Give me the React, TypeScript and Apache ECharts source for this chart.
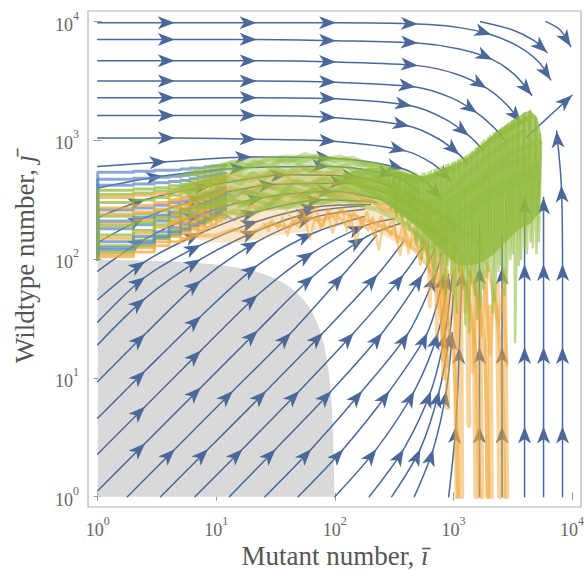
import React, { useEffect, useRef } from "react";
import * as echarts from "echarts";

// ---- axis ranges (log10 units) ----
const X_MIN = -0.082;
const X_MAX = 4.076;
const Y_MIN = -0.087;
const Y_MAX = 4.09;
const decadeTicks = [0, 1, 2, 3, 4];

// ---- grey region (counts i, j) ----
const grayI = [1, 2, 3, 5, 7, 10, 15, 20, 25, 30, 35, 40, 45, 50, 55, 60, 65, 70, 75, 80, 85, 90, 93, 95, 97, 98, 99, 1];
const grayJ = [99, 98, 97, 95, 93, 90, 85, 80, 75, 70, 65, 60, 55, 50, 45, 40, 35, 30, 25, 20, 15, 10, 7, 5, 3, 2, 1, 1];

// ---- streamlines, [log10 i, log10 j, arrowhead?] ----
const rowStreams = [
  [[0, 3.99, 0], [0.65, 3.99, 1], [1.34, 3.99, 1], [2.01, 3.99, 1], [2.7, 3.98, 1], [3.05, 3.95, 0], [3.32, 3.89, 1], [3.55, 3.79, 0], [3.72, 3.66, 0], [3.82, 3.51, 1]],
  [[0, 3.85, 0], [0.65, 3.85, 1], [1.34, 3.85, 1], [2.01, 3.84, 1], [2.7, 3.82, 1], [3.05, 3.77, 0], [3.33, 3.68, 1], [3.52, 3.55, 0], [3.66, 3.38, 1]],
  [[0, 3.67, 0], [0.65, 3.67, 1], [1.34, 3.67, 1], [2.01, 3.66, 1], [2.7, 3.63, 1], [3.02, 3.56, 0], [3.28, 3.44, 1], [3.45, 3.3, 0], [3.57, 3.15, 1]],
  [[0, 3.5, 0], [0.65, 3.5, 1], [1.34, 3.5, 1], [2.01, 3.49, 1], [2.68, 3.45, 1], [2.98, 3.36, 0], [3.2, 3.23, 1], [3.35, 3.1, 0], [3.45, 2.98, 0]],
  [[0, 3.36, 0], [0.65, 3.36, 1], [1.34, 3.36, 1], [2.01, 3.35, 1], [2.65, 3.29, 1], [2.93, 3.18, 0], [3.13, 3.04, 1], [3.25, 2.92, 0]],
  [[0, 3.21, 0], [0.65, 3.21, 1], [1.34, 3.21, 1], [2.01, 3.19, 1], [2.63, 3.12, 1], [2.88, 3.01, 0], [3.05, 2.88, 1], [3.12, 2.8, 0]],
  [[0, 3.02, 0], [0.65, 3.02, 1], [1.34, 3.01, 1], [2.01, 2.99, 1], [2.6, 2.91, 1], [2.83, 2.8, 0], [2.98, 2.66, 1]],
  [[0, 2.78, 0], [0.58, 2.82, 1], [1.3, 2.86, 1], [1.98, 2.85, 1], [2.58, 2.76, 1], [2.78, 2.64, 0], [2.9, 2.5, 1]],
];

const leftStreams = [
  [[0, 0.05, 0], [0.4, 0.45, 1], [0.87, 0.92, 1], [1.35, 1.4, 1], [1.82, 1.86, 1], [2.25, 2.18, 1], [2.55, 2.3, 0]],
  [[0, 0.36, 0], [0.4, 0.76, 1], [0.87, 1.23, 1], [1.35, 1.7, 1], [1.82, 2.06, 1], [2.25, 2.28, 1], [2.5, 2.34, 0]],
  [[0, 0.66, 0], [0.4, 1.06, 1], [0.87, 1.52, 1], [1.35, 1.95, 1], [1.82, 2.22, 1], [2.25, 2.36, 0]],
  [[0, 0.97, 0], [0.4, 1.37, 1], [0.87, 1.82, 1], [1.35, 2.15, 1], [1.82, 2.35, 1], [2.25, 2.42, 0]],
  [[0, 1.28, 0], [0.4, 1.67, 1], [0.87, 2.0, 1], [1.35, 2.24, 1], [1.82, 2.4, 1], [2.25, 2.45, 0]],
  [[0, 1.47, 0], [0.4, 1.85, 1], [0.87, 2.12, 1], [1.35, 2.32, 1], [1.85, 2.44, 1], [2.3, 2.46, 0]],
  [[0, 1.66, 0], [0.4, 1.98, 1], [0.87, 2.22, 1], [1.35, 2.4, 1], [1.9, 2.5, 1], [2.35, 2.48, 0]],
  [[0, 1.9, 0], [0.4, 2.17, 1], [0.87, 2.38, 1], [1.4, 2.52, 1], [2.0, 2.57, 1], [2.4, 2.5, 0]],
  [[0, 2.14, 0], [0.4, 2.35, 1], [0.9, 2.52, 1], [1.5, 2.63, 1], [2.1, 2.64, 1], [2.45, 2.55, 0]],
  [[0, 2.35, 0], [0.4, 2.5, 1], [0.95, 2.62, 1], [1.6, 2.71, 1], [2.2, 2.69, 1], [2.5, 2.6, 0]],
  [[0, 2.6, 0], [0.55, 2.7, 1], [1.25, 2.77, 1], [1.95, 2.78, 1], [2.5, 2.7, 1], [2.72, 2.56, 0]],
];

const bottomStreams = [
  [[0.25, 0, 0], [0.65, 0.4, 1], [1.14, 0.89, 1], [1.63, 1.38, 1], [2.07, 1.87, 1], [2.35, 2.2, 0]],
  [[0.53, 0, 0], [0.93, 0.4, 1], [1.42, 0.89, 1], [1.9, 1.38, 1], [2.36, 1.87, 1], [2.58, 2.15, 0]],
  [[0.82, 0, 0], [1.22, 0.4, 1], [1.7, 0.89, 1], [2.16, 1.38, 1], [2.58, 1.87, 1], [2.74, 2.1, 0]],
  [[1.11, 0, 0], [1.5, 0.4, 1], [1.97, 0.89, 1], [2.4, 1.38, 1], [2.74, 1.87, 1], [2.84, 2.08, 0]],
  [[1.41, 0, 0], [1.8, 0.4, 1], [2.23, 0.89, 1], [2.62, 1.38, 1], [2.85, 1.87, 1], [2.9, 2.05, 0]],
  [[1.69, 0, 0], [2.07, 0.4, 1], [2.46, 0.89, 1], [2.78, 1.38, 1], [2.92, 1.87, 1]],
  [[2.0, 0, 0], [2.35, 0.4, 1], [2.67, 0.89, 1], [2.87, 1.38, 1], [2.96, 1.87, 1]],
  [[2.29, 0, 0], [2.58, 0.4, 1], [2.81, 0.89, 1], [2.93, 1.38, 1], [2.99, 1.87, 0]],
  [[2.48, 0, 0], [2.72, 0.4, 1], [2.88, 0.89, 1], [2.97, 1.38, 1], [3.0, 1.7, 0]],
  [[2.67, 0, 0], [2.83, 0.4, 1], [2.94, 0.89, 1], [2.99, 1.38, 1]],
  [[2.96, 0, 0], [3.02, 0.59, 1], [3.05, 1.26, 1], [3.07, 1.9, 1]],
];

const rightStreams = [
  [[3.22, 0, 0], [3.22, 0.59, 1], [3.22, 1.26, 1], [3.22, 1.93, 1], [3.22, 2.3, 0]],
  [[3.41, 0, 0], [3.41, 0.59, 1], [3.41, 1.26, 1], [3.41, 1.93, 1], [3.41, 2.2, 0]],
  [[3.6, 0, 0], [3.6, 0.59, 1], [3.6, 1.26, 1], [3.6, 1.96, 1], [3.6, 2.52, 1]],
  [[3.76, 0, 0], [3.76, 0.59, 1], [3.76, 1.26, 1], [3.76, 1.96, 1], [3.76, 2.52, 1]],
  [[3.92, 0, 0], [3.92, 0.59, 1], [3.92, 1.26, 1], [3.92, 1.96, 1], [3.91, 2.62, 1], [3.87, 3.08, 1]],
];

const edgeStreams = [
  [[3.23, 4.0, 0], [3.5, 3.93, 0], [3.68, 3.84, 0], [3.79, 3.74, 1]],
  [[3.78, 4.0, 0], [3.9, 3.93, 0], [3.99, 3.79, 1]],
  [[3.62, 3.03, 0], [4.0, 3.38, 1]],
];

// ---- stochastic trajectories ----
// staircase part: wildtype counts j for mutant counts i = 1..11, starting from j = 100
const stairStart = 100;
const stairColors = ["g", "b", "o", "g", "b", "o", "g", "b", "o", "g", "b", "o", "g", "b", "o", "g", "b", "o", "b", "g", "b", "o", "b", "g"];
const stairJ = [
  [230, 240, 255, 270, 290, 300, 320, 340, 350, 370, 385],
  [180, 195, 210, 225, 240, 250, 270, 290, 300, 320, 335],
  [150, 165, 185, 200, 215, 230, 245, 260, 280, 300, 310],
  [300, 315, 330, 345, 360, 375, 395, 410, 430, 450, 460],
  [120, 135, 150, 160, 175, 190, 200, 215, 230, 245, 260],
  [200, 215, 230, 245, 260, 275, 290, 310, 330, 345, 355],
  [160, 175, 195, 210, 225, 240, 255, 270, 290, 310, 320],
  [260, 270, 285, 300, 310, 325, 340, 355, 370, 390, 400],
  [110, 125, 140, 155, 165, 180, 190, 205, 220, 235, 250],
  [350, 360, 375, 390, 405, 420, 435, 450, 465, 480, 490],
  [420, 430, 440, 450, 460, 475, 490, 500, 510, 520, 530],
  [270, 285, 300, 315, 330, 345, 360, 370, 385, 400, 415],
  [130, 145, 160, 175, 190, 200, 215, 230, 245, 260, 275],
  [140, 155, 170, 185, 200, 215, 230, 245, 260, 280, 290],
  [330, 345, 355, 370, 380, 395, 410, 425, 440, 455, 470],
  [190, 205, 220, 235, 250, 265, 280, 300, 320, 335, 350],
  [210, 225, 235, 250, 265, 280, 295, 305, 320, 340, 350],
  [240, 250, 265, 280, 290, 305, 320, 335, 345, 360, 375],
  [470, 480, 490, 500, 510, 520, 535, 545, 555, 565, 575],
  [115, 130, 150, 165, 180, 195, 210, 225, 240, 255, 270],
  [540, 550, 560, 565, 575, 585, 590, 600, 610, 615, 620],
  [105, 115, 130, 140, 150, 160, 175, 185, 195, 210, 220],
  [125, 140, 155, 170, 180, 195, 205, 220, 235, 250, 265],
  [380, 390, 400, 415, 425, 440, 455, 465, 480, 495, 505],
];

// continuation (log10 units)
const orangeTraj = [
  [[0.6, 2.3], [0.7, 2.34], [0.8, 2.3], [0.9, 2.37], [1.0, 2.35], [1.1, 2.4], [1.2, 2.37], [1.3, 2.45], [1.4, 2.42], [1.5, 2.5], [1.6, 2.47], [1.7, 2.55], [1.8, 2.5], [1.9, 2.56], [2.0, 2.52], [2.1, 2.55], [2.2, 2.48], [2.3, 2.5], [2.4, 2.42], [2.5, 2.4], [2.6, 2.3], [2.7, 2.22], [2.78, 2.05], [2.85, 1.9], [2.92, 1.7], [2.96, 1.45], [3.0, 1.2], [3.02, 0.9], [3.03, 0.5], [3.04, 0]],
  [[0.6, 2.48], [0.75, 2.53], [0.88, 2.5], [1.0, 2.55], [1.12, 2.6], [1.25, 2.55], [1.38, 2.63], [1.5, 2.6], [1.62, 2.67], [1.75, 2.62], [1.88, 2.68], [2.0, 2.63], [2.12, 2.66], [2.25, 2.58], [2.38, 2.6], [2.5, 2.52], [2.62, 2.45], [2.72, 2.38], [2.82, 2.25], [2.92, 2.15], [3.0, 2.0], [3.08, 1.85], [3.14, 1.6], [3.18, 1.3], [3.2, 0.9], [3.21, 0.4], [3.22, 0]],
  [[0.7, 2.15], [0.85, 2.2], [1.0, 2.2], [1.15, 2.25], [1.3, 2.22], [1.45, 2.3], [1.6, 2.27], [1.75, 2.35], [1.9, 2.33], [2.05, 2.4], [2.2, 2.35], [2.35, 2.3], [2.48, 2.22], [2.6, 2.15], [2.7, 2.05], [2.78, 1.95], [2.86, 1.75], [2.9, 1.5], [2.93, 1.25], [2.95, 1.1]],
  [[0.8, 2.62], [0.9, 2.66], [1.0, 2.68], [1.15, 2.72], [1.3, 2.66], [1.45, 2.74], [1.6, 2.7], [1.75, 2.76], [1.9, 2.72], [2.05, 2.74], [2.2, 2.66], [2.35, 2.68], [2.5, 2.58], [2.62, 2.55], [2.75, 2.45], [2.88, 2.38], [3.0, 2.3], [3.12, 2.22], [3.22, 2.12], [3.3, 1.9], [3.36, 1.6], [3.4, 1.2], [3.42, 0.7], [3.43, 0]],
  [[0.65, 2.4], [0.78, 2.44], [0.9, 2.42], [1.0, 2.45], [1.12, 2.5], [1.25, 2.47], [1.38, 2.53], [1.5, 2.5], [1.62, 2.58], [1.75, 2.53], [1.88, 2.6], [2.0, 2.55], [2.12, 2.58], [2.25, 2.5], [2.38, 2.46], [2.5, 2.4], [2.62, 2.35], [2.72, 2.3], [2.82, 2.22], [2.9, 2.2], [3.0, 2.12], [3.08, 2.0], [3.15, 1.85], [3.22, 1.6], [3.26, 1.3], [3.28, 0.8], [3.29, 0]],
];
const orangeFringe = [
  [[1.4, 2.3], [1.44, 2.24], [1.47, 2.33], [1.52, 2.26], [1.56, 2.35], [1.6, 2.2], [1.64, 2.32], [1.7, 2.27], [1.74, 2.38], [1.79, 2.17], [1.83, 2.34], [1.9, 2.28], [1.94, 2.4], [1.98, 2.22], [2.03, 2.36], [2.09, 2.3], [2.13, 2.38], [2.18, 2.13], [2.22, 2.33], [2.28, 2.24], [2.32, 2.35], [2.37, 2.08], [2.41, 2.3], [2.47, 2.2], [2.5, 2.28], [2.55, 2.03], [2.59, 2.25], [2.64, 2.12], [2.68, 2.2], [2.72, 1.95], [2.76, 2.15], [2.8, 1.9]],
  [[1.6, 2.4], [1.66, 2.31], [1.71, 2.42], [1.78, 2.33], [1.84, 2.44], [1.88, 2.26], [1.95, 2.42], [2.0, 2.33], [2.06, 2.44], [2.1, 2.24], [2.16, 2.4], [2.23, 2.29], [2.27, 2.4], [2.33, 2.19], [2.39, 2.36], [2.44, 2.25], [2.49, 2.34], [2.53, 2.14], [2.58, 2.3], [2.62, 2.05], [2.66, 2.26], [2.71, 2.08], [2.75, 2.22], [2.79, 2.0]],
];
const orangeFunnel = [[2.78, 2.35], [2.8, 1.6], [2.84, 2.25], [2.86, 1.35], [2.88, 2.15], [2.91, 1.15], [2.94, 2.05], [2.96, 1.45], [3.0, 2.1], [3.03, 1.25], [3.07, 1.95], [3.1, 1.55], [3.13, 1.9], [3.16, 1.05], [3.2, 1.85], [3.23, 1.35], [3.27, 1.8], [3.31, 1.2], [3.34, 1.7], [3.38, 1.45], [3.42, 1.75], [3.45, 1.1]];
const orangeStrands = [
  [3.01, 1.9, 3.03, 0], [3.06, 2.0, 3.07, 0], [3.12, 1.8, 3.13, 0.6], [3.17, 2.0, 3.19, 0], [3.22, 1.7, 3.24, 0],
  [3.27, 1.9, 3.29, 0], [3.31, 1.6, 3.32, 0], [3.37, 1.8, 3.39, 0], [3.43, 1.9, 3.45, 0], [2.9, 2.0, 2.92, 1.0], [2.94, 1.9, 2.95, 0.75],
];
const orangeBand = [[0.6, 2.3], [0.9, 2.62], [1.2, 2.72], [1.6, 2.76], [2.0, 2.74], [2.3, 2.68], [2.55, 2.6], [2.75, 2.5], [2.95, 2.38], [3.1, 2.2], [3.0, 2.0], [2.85, 1.95], [2.7, 2.05], [2.5, 2.15], [2.3, 2.25], [2.05, 2.28], [1.8, 2.24], [1.5, 2.2], [1.2, 2.14], [0.9, 2.15]];

const greenTraj = [
  [[0.6, 2.55], [0.7, 2.6], [0.8, 2.57], [0.9, 2.64], [1.0, 2.62], [1.1, 2.68], [1.2, 2.64], [1.3, 2.72], [1.4, 2.68], [1.5, 2.76], [1.6, 2.72], [1.7, 2.79], [1.8, 2.74], [1.9, 2.8], [2.0, 2.76], [2.1, 2.79], [2.2, 2.72], [2.3, 2.74], [2.4, 2.66], [2.5, 2.64], [2.6, 2.56], [2.7, 2.5], [2.8, 2.45], [2.9, 2.52], [3.0, 2.6], [3.1, 2.7], [3.2, 2.78], [3.3, 2.88], [3.4, 2.95], [3.5, 3.02], [3.6, 3.08]],
  [[0.7, 2.4], [0.85, 2.44], [1.0, 2.45], [1.12, 2.5], [1.25, 2.46], [1.38, 2.55], [1.5, 2.52], [1.62, 2.6], [1.75, 2.56], [1.88, 2.62], [2.0, 2.58], [2.12, 2.62], [2.25, 2.55], [2.38, 2.52], [2.5, 2.45], [2.6, 2.38], [2.7, 2.3], [2.8, 2.25], [2.9, 2.35], [3.0, 2.45], [3.1, 2.55], [3.2, 2.62], [3.3, 2.7], [3.45, 2.8], [3.6, 2.85]],
  [[0.8, 2.72], [0.9, 2.76], [1.0, 2.78], [1.15, 2.82], [1.3, 2.78], [1.45, 2.85], [1.6, 2.82], [1.75, 2.88], [1.9, 2.84], [2.05, 2.86], [2.2, 2.8], [2.35, 2.8], [2.5, 2.74], [2.62, 2.7], [2.75, 2.68], [2.88, 2.72], [3.0, 2.78], [3.12, 2.86], [3.25, 2.95], [3.38, 3.05], [3.5, 3.12], [3.62, 3.18]],
  [[0.9, 2.32], [1.0, 2.35], [1.15, 2.4], [1.3, 2.38], [1.45, 2.46], [1.6, 2.44], [1.75, 2.5], [1.9, 2.48], [2.05, 2.52], [2.2, 2.46], [2.35, 2.42], [2.5, 2.35], [2.6, 2.28], [2.7, 2.2], [2.8, 2.1], [2.9, 2.15], [3.0, 2.25], [3.1, 2.35], [3.2, 2.45], [3.35, 2.55], [3.5, 2.62], [3.65, 2.7]],
  [[0.7, 2.7], [0.82, 2.74], [0.95, 2.7], [1.08, 2.78], [1.2, 2.74], [1.32, 2.82], [1.45, 2.78], [1.58, 2.85], [1.7, 2.82], [1.85, 2.87], [2.0, 2.83], [2.15, 2.85], [2.3, 2.79], [2.45, 2.76], [2.58, 2.7], [2.7, 2.66], [2.82, 2.68], [2.95, 2.74], [3.08, 2.8], [3.2, 2.9], [3.32, 3.0], [3.45, 3.08], [3.58, 3.16], [3.66, 3.2]],
  [[0.8, 2.5], [0.92, 2.55], [1.05, 2.5], [1.18, 2.58], [1.3, 2.55], [1.42, 2.62], [1.55, 2.58], [1.68, 2.66], [1.8, 2.62], [1.92, 2.68], [2.05, 2.64], [2.18, 2.66], [2.3, 2.6], [2.42, 2.58], [2.55, 2.5], [2.65, 2.44], [2.75, 2.38], [2.85, 2.4], [2.95, 2.48], [3.05, 2.55], [3.15, 2.62], [3.28, 2.72], [3.4, 2.82], [3.55, 2.92], [3.68, 2.98]],
  [[1.2, 2.45], [1.32, 2.5], [1.45, 2.46], [1.58, 2.55], [1.7, 2.52], [1.82, 2.58], [1.95, 2.54], [2.08, 2.6], [2.2, 2.55], [2.32, 2.55], [2.45, 2.48], [2.55, 2.42], [2.65, 2.34], [2.75, 2.28], [2.85, 2.22], [2.95, 2.3], [3.05, 2.38], [3.15, 2.46], [3.28, 2.56], [3.42, 2.64], [3.56, 2.7], [3.7, 2.78]],
];
const blueTraj = [
  [[0.95, 2.35], [1.05, 2.38], [1.15, 2.33], [1.25, 2.4]],
  [[0.95, 2.55], [1.05, 2.58], [1.15, 2.52], [1.25, 2.58], [1.35, 2.55]],
];
const greenBand = [[0.7, 2.6], [0.9, 2.76], [1.2, 2.84], [1.6, 2.88], [2.0, 2.86], [2.3, 2.82], [2.55, 2.76], [2.7, 2.72], [2.7, 2.32], [2.45, 2.45], [2.2, 2.48], [1.9, 2.46], [1.6, 2.42], [1.3, 2.4], [1.0, 2.42], [0.8, 2.5]];
const greenCloud = [[2.0, 2.68], [2.15, 2.74], [2.3, 2.77], [2.45, 2.75], [2.62, 2.72], [2.75, 2.7], [2.9, 2.76], [3.0, 2.8], [3.11, 2.84], [3.2, 2.92], [3.3, 3.02], [3.4, 3.1], [3.5, 3.17], [3.58, 3.22], [3.64, 3.25], [3.7, 3.2], [3.74, 3.05], [3.74, 2.7], [3.72, 2.4], [3.65, 2.3], [3.55, 2.25], [3.45, 2.15], [3.35, 2.05], [3.25, 1.98], [3.15, 1.95], [3.05, 1.95], [2.95, 2.02], [2.85, 2.12], [2.75, 2.22], [2.62, 2.33], [2.45, 2.45], [2.3, 2.55], [2.15, 2.62]];
const greenZigzags = [
  [[2.45, 2.74], [2.47, 2.42], [2.5, 2.74], [2.52, 2.36], [2.55, 2.73], [2.57, 2.32], [2.6, 2.72], [2.62, 2.7], [2.63, 2.25], [2.66, 2.72], [2.68, 2.12], [2.71, 2.7], [2.73, 2.0], [2.76, 2.72], [2.78, 1.95], [2.81, 2.74], [2.83, 1.82], [2.86, 2.76], [2.88, 2.02], [2.91, 2.78], [2.93, 1.7], [2.96, 2.8], [2.98, 1.88], [3.01, 2.82], [3.03, 1.55], [3.06, 2.84], [3.08, 1.75], [3.11, 2.86], [3.13, 1.38], [3.16, 2.9], [3.18, 1.7], [3.21, 2.95], [3.23, 1.6], [3.26, 3.0], [3.28, 1.85], [3.31, 3.04], [3.33, 1.55], [3.36, 3.07], [3.38, 1.9], [3.41, 3.1], [3.43, 1.7], [3.46, 3.14], [3.48, 2.0], [3.51, 3.17], [3.52, 1.3], [3.55, 3.2], [3.57, 2.0], [3.6, 3.23], [3.62, 2.05], [3.65, 3.25], [3.67, 2.1], [3.7, 3.18], [3.72, 2.15], [3.74, 3.0]],
  [[2.5, 2.72], [2.51, 2.4], [2.55, 2.72], [2.56, 2.35], [2.6, 2.7], [2.61, 2.3], [2.64, 2.68], [2.65, 2.3], [2.69, 2.7], [2.7, 2.15], [2.74, 2.72], [2.75, 2.08], [2.79, 2.73], [2.8, 2.0], [2.84, 2.75], [2.85, 1.9], [2.89, 2.77], [2.9, 1.8], [2.94, 2.79], [2.95, 1.95], [2.99, 2.81], [3.0, 1.65], [3.04, 2.83], [3.05, 1.9], [3.09, 2.85], [3.1, 1.45], [3.14, 2.88], [3.15, 1.8], [3.19, 2.93], [3.2, 1.5], [3.24, 2.98], [3.25, 1.75], [3.29, 3.02], [3.3, 1.9], [3.34, 3.06], [3.35, 1.65], [3.39, 3.09], [3.4, 1.95], [3.44, 3.12], [3.45, 1.8], [3.49, 3.16], [3.5, 2.05], [3.54, 3.19], [3.55, 1.95], [3.59, 3.22], [3.6, 2.1], [3.64, 3.24], [3.65, 2.15], [3.69, 3.2], [3.7, 2.05], [3.73, 3.05]],
];

const STREAM = "#4a6899";
const ORANGE = "#f0a73a";
const GREEN = "#8fba3c";
const BLUE_T = "#5f86c4";
const SERIF = "'Liberation Serif', 'DejaVu Serif', serif";

function polygonSeries(pts: number[][], color: string, opacity: number, z: number) {
  return {
    type: "custom",
    coordinateSystem: "cartesian2d",
    silent: true,
    z,
    data: [[pts[0][0], pts[0][1]]],
    renderItem: (_p: any, api: any) => ({
      type: "polygon",
      shape: { points: pts.map((p) => api.coord(p)), smooth: 0.2 },
      style: { fill: color, opacity },
    }),
  };
}

function lineSeries(pts: number[][], color: string, width: number, opacity: number, z: number, smooth: number | boolean = false) {
  return {
    type: "line",
    data: pts.map((p) => [p[0], p[1]]),
    smooth,
    symbol: "none",
    silent: true,
    z,
    lineStyle: { color, width, opacity, cap: "round", join: "round" },
  };
}

const labelFmt = (v: number) => `{b|10}{e|${Math.round(v)}}`;
const labelRich = {
  b: { fontSize: 18, fontFamily: SERIF, color: "#666", lineHeight: 24, verticalAlign: "bottom" },
  e: { fontSize: 12, fontFamily: SERIF, color: "#666", lineHeight: 10, verticalAlign: "top" },
};

export default function App() {
  const ref = useRef<HTMLDivElement>(null);
  useEffect(() => {
    const chart = echarts.init(ref.current!, null, { renderer: "svg" });

    const allStreams = [...rowStreams, ...leftStreams, ...bottomStreams, ...rightStreams, ...edgeStreams];
    const arrowData: number[][] = [];
    allStreams.forEach((s) =>
      s.forEach((p, k) => {
        if (p[2]) {
          const a = s[k - 1];
          const b = s[k + 1] || p;
          arrowData.push([p[0], p[1], a[0], a[1], b[0], b[1]]);
        }
      })
    );

    const grayPts = grayI.map((i, k) => [Math.log10(i), Math.log10(grayJ[k])]);

    const colorOf: Record<string, string> = { g: GREEN, b: BLUE_T, o: ORANGE };
    const stairSeries = stairJ.map((js, t) => {
      const pts: number[][] = [[0, Math.log10(stairStart)]];
      js.forEach((j, k) => {
        pts.push([Math.log10(k + 1), Math.log10(j)]);
        pts.push([Math.log10(k + 2), Math.log10(j)]);
      });
      return lineSeries(pts, colorOf[stairColors[t]], 3, 0.72, 10);
    });

    const series: any[] = [
      {
        type: "custom",
        coordinateSystem: "cartesian2d",
        silent: true,
        z: 1,
        data: [[grayPts[0][0], grayPts[0][1]]],
        renderItem: (_p: any, api: any) => ({
          type: "polygon",
          shape: { points: grayPts.map((p) => api.coord(p)) },
          style: { fill: "#d9d9d9" },
        }),
      },
      ...allStreams.map((s) => lineSeries(s, STREAM, 1.5, 1, 3, 0.3)),
      {
        type: "custom",
        coordinateSystem: "cartesian2d",
        silent: true,
        z: 4,
        data: arrowData,
        renderItem: (_p: any, api: any) => {
          const p = api.coord([api.value(0), api.value(1)]);
          const a = api.coord([api.value(2), api.value(3)]);
          const b = api.coord([api.value(4), api.value(5)]);
          let dx = b[0] - a[0];
          let dy = b[1] - a[1];
          const len = Math.hypot(dx, dy) || 1;
          dx /= len;
          dy /= len;
          const L = 17, W = 6.5, N = 4.5;
          const bx = p[0] - dx * L, by = p[1] - dy * L;
          return {
            type: "polygon",
            shape: {
              points: [
                [p[0], p[1]],
                [bx - dy * W, by + dx * W],
                [p[0] - dx * (L - N), p[1] - dy * (L - N)],
                [bx + dy * W, by - dx * W],
              ],
            },
            style: { fill: STREAM },
          };
        },
      },
      ...stairSeries,
      ...blueTraj.map((t) => lineSeries(t, BLUE_T, 3, 0.55, 11)),
      polygonSeries(orangeBand, ORANGE, 0.28, 12),
      ...orangeTraj.map((t) => lineSeries(t, ORANGE, 4, 0.5, 13)),
      ...orangeFringe.map((t) => lineSeries(t, ORANGE, 2.5, 0.5, 13)),
      lineSeries(orangeFunnel, ORANGE, 3.5, 0.45, 13),
      ...orangeStrands.map((s) => lineSeries([[s[0], s[1]], [s[2], s[3]]], ORANGE, 5, 0.5, 13)),
      polygonSeries(greenBand, GREEN, 0.4, 14),
      ...greenTraj.map((t) => lineSeries(t, GREEN, 5, 0.45, 15)),
      polygonSeries(greenCloud, GREEN, 0.72, 16),
      ...greenZigzags.map((t) => lineSeries(t, GREEN, 2.5, 0.55, 17)),
    ];

    const tickStyle = { inside: true, length: 4, customValues: decadeTicks, lineStyle: { color: "#999", width: 1 } };

    chart.setOption({
      animation: false,
      textStyle: { fontFamily: SERIF },
      grid: { left: 88, right: 5, top: 11, bottom: 64, show: true, borderColor: "#b3b3b3", borderWidth: 1.2, backgroundColor: "#fff" },
      xAxis: [
        {
          type: "value", min: X_MIN, max: X_MAX, position: "bottom",
          axisLine: { show: false }, splitLine: { show: false },
          axisTick: tickStyle,
          axisLabel: { customValues: decadeTicks, formatter: labelFmt, rich: labelRich, margin: 8 },
        },
        {
          type: "value", min: X_MIN, max: X_MAX, position: "top",
          axisLine: { show: false }, splitLine: { show: false },
          axisTick: tickStyle, axisLabel: { show: false },
        },
      ],
      yAxis: [
        {
          type: "value", min: Y_MIN, max: Y_MAX, position: "left",
          axisLine: { show: false }, splitLine: { show: false },
          axisTick: tickStyle,
          axisLabel: { customValues: decadeTicks, formatter: labelFmt, rich: labelRich, margin: 9 },
        },
        {
          type: "value", min: Y_MIN, max: Y_MAX, position: "right",
          axisLine: { show: false }, splitLine: { show: false },
          axisTick: tickStyle, axisLabel: { show: false },
        },
      ],
      graphic: [
        {
          type: "text", x: 335, y: 556, silent: true,
          style: {
            text: "Mutant number, {it|ī}",
            font: `27px ${SERIF}`, fill: "#555", align: "center", verticalAlign: "middle",
            rich: { it: { fontStyle: "italic", fontSize: 27, fontFamily: SERIF, fill: "#555" } },
          },
        },
        {
          type: "text", x: 25, y: 259, rotation: Math.PI / 2, silent: true,
          style: {
            text: "Wildtype number, {it|ȷ̄}",
            font: `27px ${SERIF}`, fill: "#555", align: "center", verticalAlign: "middle",
            rich: { it: { fontStyle: "italic", fontSize: 27, fontFamily: SERIF, fill: "#555" } },
          },
        },
      ],
      series,
    });
    return () => chart.dispose();
  }, []);
  return <div ref={ref} style={{ position: "fixed", left: 0, top: 0, width: 587, height: 571, background: "#fff" }} />;
}
